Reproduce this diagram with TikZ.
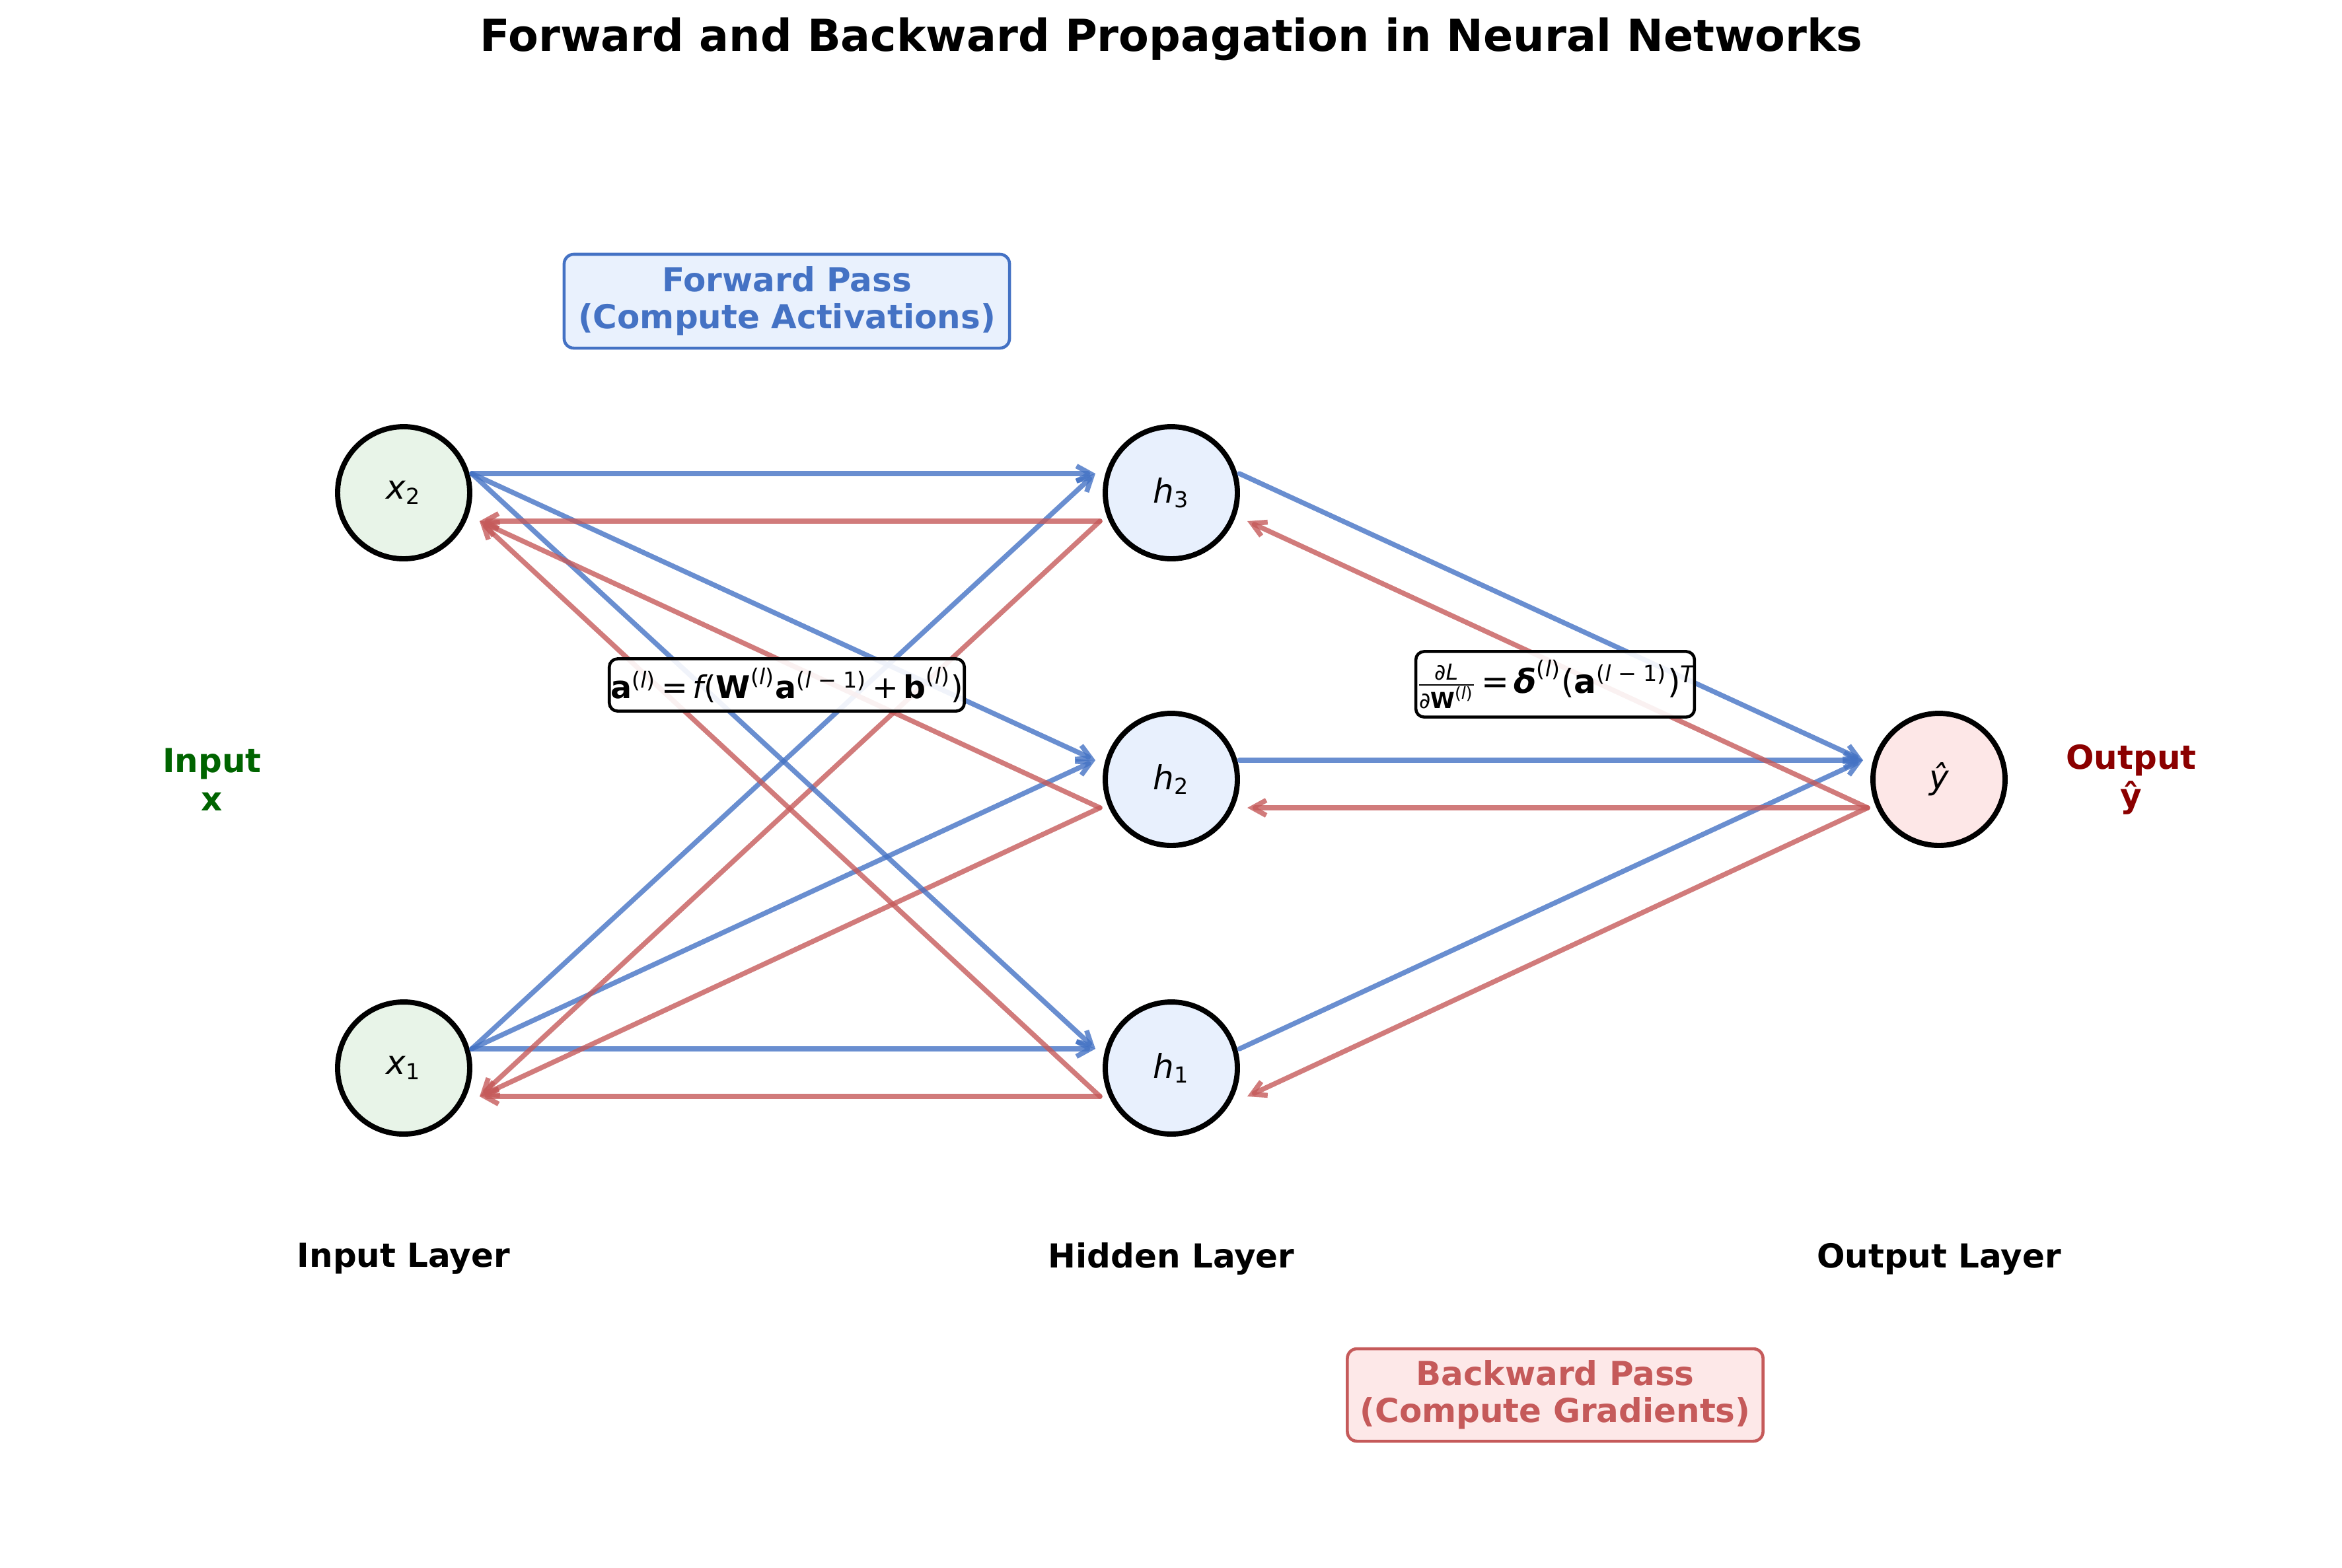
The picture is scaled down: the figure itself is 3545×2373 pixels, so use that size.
\documentclass[tikz,border=0pt]{standalone}
\usepackage{fontspec}
\usepackage{amsmath}
\setmainfont{DejaVu Sans}
\usetikzlibrary{arrows.meta,calc}
\definecolor{fwdC}{HTML}{4472C4}
\definecolor{bwdC}{HTML}{C55A5A}
\definecolor{inFill}{HTML}{E8F4E8}
\definecolor{hidFill}{HTML}{E8F0FD}
\definecolor{outFill}{HTML}{FDE7E7}
\definecolor{fwdFill}{HTML}{E9F1FD}
\definecolor{bwdFill}{HTML}{FDE8E8}
\definecolor{inText}{HTML}{006400}
\definecolor{outText}{HTML}{8B0000}
\newcommand{\T}[1]{\text{#1}}
\newcommand{\Lp}{\T{(\textit{l})}}
\tikzset{
  neuron/.style={circle, draw=black, line width=1.9pt, minimum size=48pt, inner sep=0pt, font=\fontsize{12}{14}\selectfont},
  fwdarrow/.style={draw=fwdC, draw opacity=0.8, line width=1.8pt, line cap=round, -{Straight Barb[length=5pt,width=5.5pt]}},
  bwdarrow/.style={draw=bwdC, draw opacity=0.8, line width=1.8pt, line cap=round, -{Straight Barb[length=5pt,width=5.5pt]}},
  layerlabel/.style={font=\fontsize{12}{14}\selectfont\bfseries},
  passbox/.style={rounded corners=3.5pt, line width=1.1pt, align=center, inner sep=0pt, font=\fontsize{12}{13.5}\selectfont\bfseries},
  formula/.style={draw=black, fill=white, fill opacity=0.9, text opacity=1, rounded corners=3pt, line width=1.1pt, inner sep=0pt, font=\fontsize{12}{14}\selectfont}
}
\begin{document}
\begin{tikzpicture}[x=0.24pt, y=-0.24pt]
\useasboundingbox (0,0) rectangle (3545,2373);
% title
\node[font=\fontsize{16}{19}\selectfont\bfseries] (title) at (1773,59) {Forward and Backward Propagation in Neural Networks};
% neurons
\node[neuron, fill=inFill] (x2) at (611,746) {$\T{\itshape x}_{\T{2}}$};
\node[neuron, fill=inFill] (x1) at (611,1617) {$\T{\itshape x}_{\T{1}}$};
\node[neuron, fill=hidFill] (h3) at (1773,746) {$\T{\itshape h}_{\T{3}}$};
\node[neuron, fill=hidFill] (h2) at (1773,1180) {$\T{\itshape h}_{\T{2}}$};
\node[neuron, fill=hidFill] (h1) at (1773,1617) {$\T{\itshape h}_{\T{1}}$};
\node[neuron, fill=outFill] (yh) at (2935,1180) {\itshape ŷ};
% forward arrows input -> hidden
\foreach \a in {x1,x2}{
  \foreach \b in {h1,h2,h3}{
    \draw[fwdarrow] ($(\a)+(103,-29)$) -- ($(\b)+(-115,-29)$);
    \draw[bwdarrow] ($(\b)+(-108,43)$) -- ($(\a)+(115,43)$);
  }
}
% hidden -> output
\foreach \b in {h1,h2,h3}{
  \draw[fwdarrow] ($(\b)+(103,-29)$) -- ($(yh)+(-115,-29)$);
  \draw[bwdarrow] ($(yh)+(-108,43)$) -- ($(\b)+(115,43)$);
}
% formulas
\node[formula, minimum width=129pt, minimum height=19pt, font=\fontsize{11.4}{14}\selectfont] (f1) at (1191,1037)
  {\thickmuskip=3mu\medmuskip=3mu$\T{\bfseries a}^{\Lp}\mathrel{\T{=}}\T{\itshape f}\T{(}\T{\bfseries W}^{\Lp}\T{\bfseries a}^{\T{(\textit{l} − 1)}}\mathbin{\T{+}}\T{\bfseries b}^{\Lp}\T{)}$};
\node[formula, minimum width=101pt, minimum height=23.8pt] (f2) at (2354,1036)
  {\thickmuskip=2.5mu\medmuskip=2.5mu$\frac{\T{∂\textit{L}}}{\T{∂\bfseries W}^{\Lp}}\mathrel{\T{=}}\T{\bfseries\itshape δ}^{\Lp}\T{(}\T{\bfseries a}^{\T{(\textit{l} − 1)}}\T{)}$\raisebox{3.8pt}{\fontsize{8.4}{10}\selectfont\itshape T}};
% pass boxes
\node[passbox, draw=fwdC, fill=fwdFill, text=fwdC, minimum width=161.8pt, minimum height=34.1pt] (fwd) at (1191,456) {Forward Pass\\(Compute Activations)};
\node[passbox, draw=bwdC, fill=bwdFill, text=bwdC, minimum width=151pt, minimum height=33.6pt] (bwd) at (2354,2112) {Backward Pass\\(Compute Gradients)};
% side labels
\node[layerlabel, text=inText, align=center] (inlab) at (321,1180) {Input\\x};
\node[layerlabel, text=outText, align=center] (outlab) at (3226,1180) {Output\\ŷ};
% layer labels
\node[layerlabel] (l1) at (611,1906) {Input Layer};
\node[layerlabel] (l2) at (1773,1906) {Hidden Layer};
\node[layerlabel] (l3) at (2935,1906) {Output Layer};
\end{tikzpicture}
\end{document}
